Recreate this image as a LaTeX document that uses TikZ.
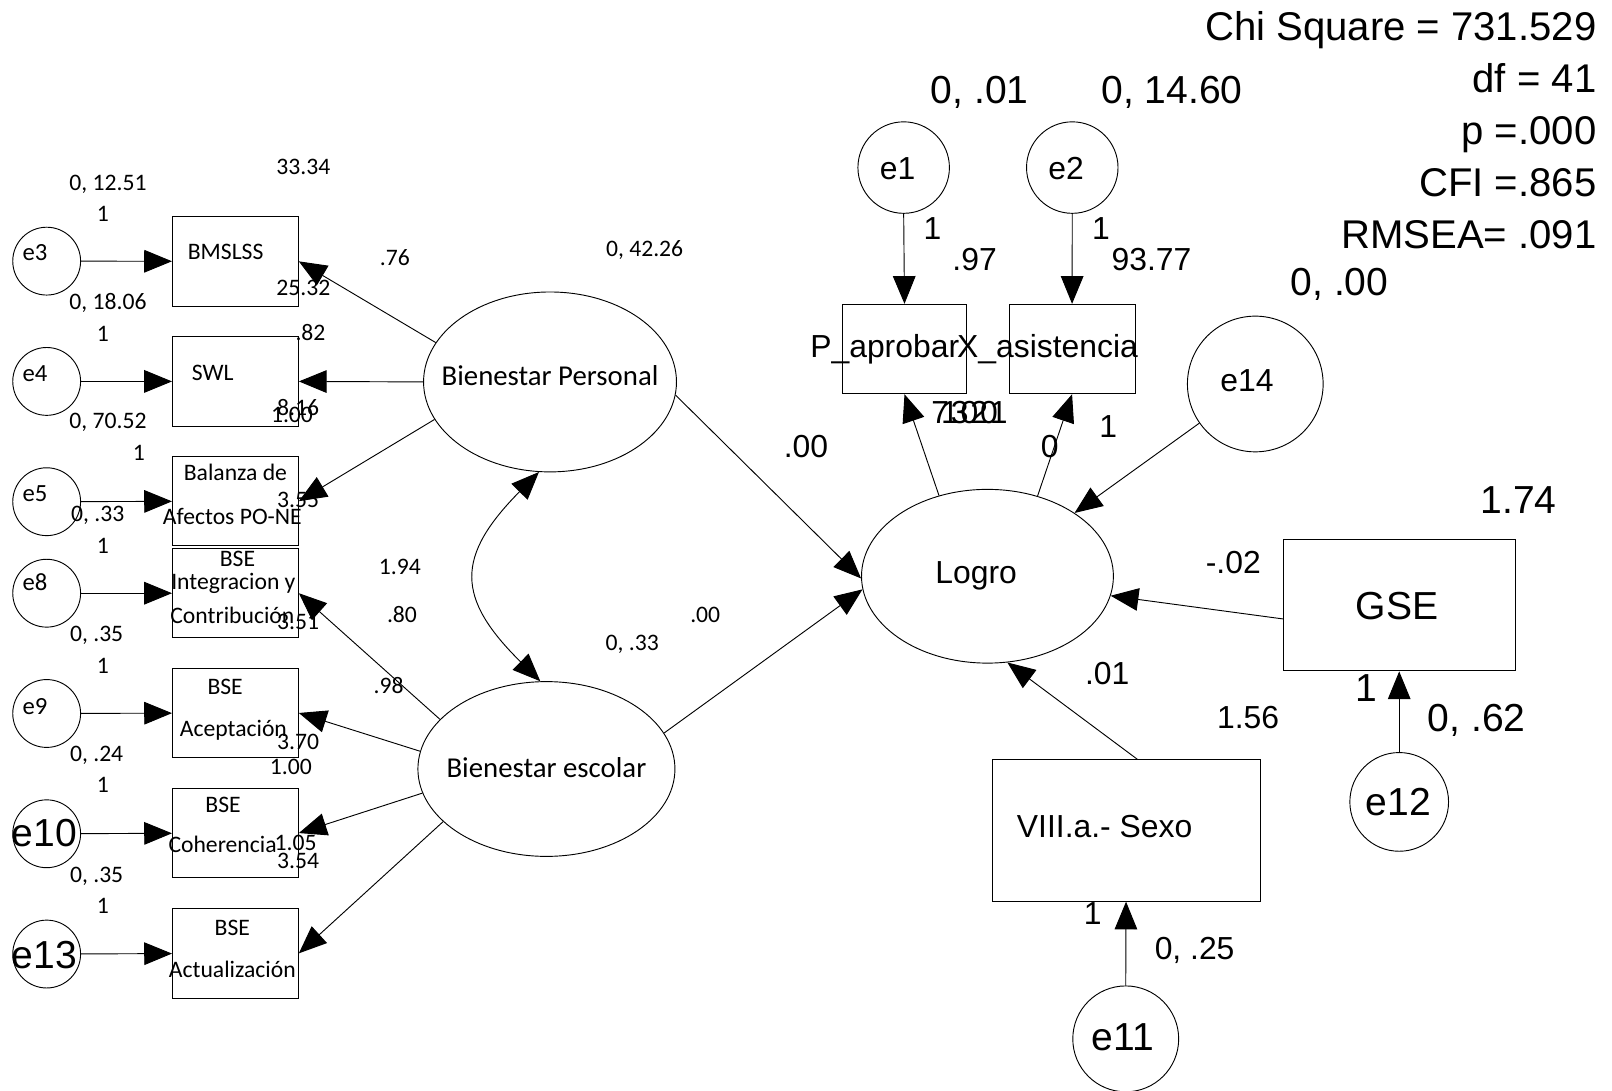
\documentclass[tikz,border=0pt]{standalone}
\usepackage{fontspec}
\setmainfont{Liberation Sans}
\newfontfamily\calfont{Carlito}
\usetikzlibrary{arrows.meta,shapes.geometric}
\tikzset{
  patharrow/.style={draw, line width=0.9pt, -{Triangle[length=27pt,width=22pt]}},
  covarrow/.style={draw, line width=0.9pt, {Triangle[length=27pt,width=22pt]}-{Triangle[length=27pt,width=22pt]}},
  latentvar/.style={draw, ellipse, line width=0.9pt, inner sep=0pt},
  obsvar/.style={draw, rectangle, line width=0.9pt, inner sep=0pt},
  errvar/.style={draw, circle, line width=0.9pt, inner sep=0pt},
  lblsmall/.style={inner sep=0pt, font=\calfont\fontsize{23}{27}\selectfont, text height=14.5pt, text depth=0pt},
  lblerr/.style={inner sep=0pt, font=\calfont\fontsize{24}{28}\selectfont, text height=15.2pt, text depth=0pt},
  lblmid/.style={inner sep=0pt, font=\calfont\fontsize{28}{32}\selectfont, text height=17.7pt, text depth=0pt},
  lblarial/.style={inner sep=0pt, font=\fontsize{31}{36}\selectfont, text height=22.2pt, text depth=0pt},
  lblbig/.style={inner sep=0pt, font=\fontsize{38}{44}\selectfont, text height=27.2pt, text depth=0pt},
  lblstat/.style={inner sep=0pt, font=\fontsize{39}{45}\selectfont, text height=27.9pt, text depth=0pt, anchor=east},
}
\begin{document}
\begin{tikzpicture}[x=1pt,y=-1pt]
\useasboundingbox (0,0) rectangle (1568,1061);

% ---------- latent variables ----------
\node[latentvar, minimum width=246, minimum height=175] (bp) at (535,371.5) {};
\node[lblmid] (bpt) at (535,366.5) {Bienestar Personal};
\node[latentvar, minimum width=250, minimum height=170] (be) at (531.5,748) {};
\node[lblmid] (bet) at (531.5,747) {Bienestar escolar};
\node[latentvar, minimum width=245, minimum height=169] (lg) at (960.5,560.5) {};
\node[lblarial] (lgt) at (949.5,556) {Logro};

% ---------- left indicators ----------
\foreach \n/\y in {bms/254.2, swl/371, bal/487.5, int/577, acc/693.5, coh/810.3, act/927.3}{
  \node[obsvar, minimum width=122.5, minimum height=87] (\n) at (229,\y) {};
}
\foreach \n/\y in {e3/254, e4/371, e5/488, e8/577, e9/694, e10/811, e13/928}{
  \node[errvar, minimum size=66] (\n) at (45.4,\y) {};
}
\node[lblerr] (e3t) at (34,245.5) {e3};
\node[lblerr] (e4t) at (34,363) {e4};
\node[lblerr] (e5t) at (34,480) {e5};
\node[lblerr] (e8t) at (34,567) {e8};
\node[lblerr] (e9t) at (34,687.5) {e9};
\node[lblbig] (e10t) at (43,810) {e10};
\node[lblbig] (e13t) at (43,928) {e13};

\draw[patharrow] (e3) -- (bms);
\draw[patharrow] (e4) -- (swl);
\draw[patharrow] (e5) -- (bal);
\draw[patharrow] (e8) -- (int);
\draw[patharrow] (e9) -- (acc);
\draw[patharrow] (e10) -- (coh);
\draw[patharrow] (e13) -- (act);

% box texts
\node[lblsmall] (bmst) at (219.5,245) {BMSLSS};
\node[lblsmall] (swlt) at (207,363) {SWL};
\node[lblsmall] (balt1) at (229,460) {Balanza de};
\node[lblsmall] (balt2) at (226,503) {Afectos PO-NE};
\node[lblsmall] (intt1) at (231,544) {BSE};
\node[lblsmall] (intt2) at (227,566) {Integracion y};
\node[lblsmall] (intt3) at (226,599) {Contribución};
\node[lblsmall] (acct1) at (219,668) {BSE};
\node[lblsmall] (acct2) at (227,709) {Aceptación};
\node[lblsmall] (coht1) at (217,783) {BSE};
\node[lblsmall] (coht2) at (216.5,822) {Coherencia};
\node[lblsmall] (actt1) at (226,903) {BSE};
\node[lblsmall] (actt2) at (226,943.5) {Actualización};

% loadings
\draw[patharrow] (bp.161.8) -- (bms.east);
\draw[patharrow] (bp.180) -- (swl.east);
\draw[patharrow] (bp.198.2) -- (bal.east);
\draw[patharrow] (be.155.9) -- (int.east);
\draw[patharrow] (be.172.7) -- (acc.east);
\draw[patharrow] (be.191.6) -- (coh.east);
\draw[patharrow] (be.207.4) -- (act.east);

% covariance
\draw[covarrow] (bp.263.5) to[bend right=45, looseness=1.45] (be.94.4);

% structural paths
\draw[patharrow] (bp.354.5) -- (lg.181);
\draw[patharrow] (be.17.6) -- (lg.186.8);

% small labels left
\node[lblsmall] (l1) at (295,162) {33.34};
\node[lblsmall] (l2) at (105,178) {0, 12.51};
\node[lblsmall] (l3) at (100,208) {1};
\node[lblsmall] (l4) at (105,294) {0, 18.06};
\node[lblsmall] (l5) at (100,325) {1};
\node[lblsmall] (l6) at (105,410) {0, 70.52};
\node[lblsmall] (l7) at (135,441) {1};
\node[lblsmall] (l8) at (95,500) {0, .33};
\node[lblsmall] (l9) at (100,531) {1};
\node[lblsmall] (l10) at (94,617) {0, .35};
\node[lblsmall] (l11) at (100,648) {1};
\node[lblsmall] (l12) at (94,733) {0, .24};
\node[lblsmall] (l13) at (100,764) {1};
\node[lblsmall] (l14) at (94,851) {0, .35};
\node[lblsmall] (l15) at (100,881) {1};
\node[lblsmall] (l16) at (384,251) {.76};
\node[lblsmall] (l17) at (627,242) {0, 42.26};
\node[lblsmall] (l18) at (295,280) {25.32};
\node[lblsmall] (l19) at (302,324) {.82};
\node[lblsmall] (l20) at (290,397) {8.16};
\node[lblsmall] (l21) at (284,404) {1.00};
\node[lblsmall] (l22) at (290,486) {3.55};
\node[lblsmall] (l23) at (389,552) {1.94};
\node[lblsmall] (l24) at (391,598) {.80};
\node[lblsmall] (l25) at (378,667) {.98};
\node[lblsmall] (l26) at (290,605) {3.51};
\node[lblsmall] (l27) at (290,721.5) {3.70};
\node[lblsmall] (l28) at (283,746) {1.00};
\node[lblsmall] (l29) at (287.6,820) {1.05};
\node[lblsmall] (l30) at (290,838) {3.54};
\node[lblsmall] (l31) at (615,625) {0, .33};
\node[lblsmall] (l32) at (686,598) {.00};

% ---------- right part ----------
\node[errvar, minimum size=89] (e1) at (879,163) {};
\node[errvar, minimum size=89] (e2) at (1043,163) {};
\node[lblarial] (e1t) at (873,163.5) {e1};
\node[lblarial] (e2t) at (1037,163.5) {e2};
\node[obsvar, minimum width=121.5, minimum height=87] (pap) at (879.8,339.5) {};
\node[obsvar, minimum width=122.4, minimum height=87] (xa) at (1042.8,339.5) {};
\node[lblarial, anchor=west] (papt) at (788,337) {P\_aprobar};
\node[lblarial, anchor=east] (xat) at (1107,337) {X\_asistencia};
\draw[patharrow] (e1.south) -- (pap.north);
\draw[patharrow] (e2.south) -- (xa.north);
\draw[patharrow] (lg.121.7) -- (pap.south);
\draw[patharrow] (lg.58) -- (xa.south);

\node[errvar, minimum size=132] (e14) at (1221,373.5) {};
\node[lblarial] (e14t) at (1213,369.6) {e14};
\draw[patharrow] (e14.215) -- (lg.36);

\node[obsvar, minimum width=225.6, minimum height=128] (gse) at (1361,588.6) {};
\node[lblbig] (gset) at (1359,588.5) {GSE};
\node[errvar, minimum size=96] (e12) at (1361,780) {};
\node[lblbig] (e12t) at (1360,780) {e12};
\draw[patharrow] ([yshift=-13.4pt]gse.west) -- (lg.351.5);
\draw[patharrow] (e12.north) -- (gse.south);

\node[obsvar, minimum width=260.6, minimum height=137.6] (sexo) at (1095.3,807.8) {};
\node[lblarial, anchor=west] (sexot) at (989,804) {VIII.a.- Sexo};
\node[errvar, minimum size=103] (e11) at (1095,1010.5) {};
\node[lblbig] (e11t) at (1092,1008.5) {e11};
\draw[patharrow] ([xshift=11pt]sexo.north) -- (lg.283);
\draw[patharrow] (e11.north) -- (sexo.south);

% labels right
\node[lblbig] (r1) at (953,87) {0, .01};
\node[lblbig] (r2) at (1140,87) {0, 14.60};
\node[lblarial] (r3) at (907,222) {1};
\node[lblarial] (r4) at (1071,222) {1};
\node[lblarial] (r5) at (948,252) {.97};
\node[lblarial] (r6) at (1120,252) {93.77};
\node[lblbig] (r7) at (1303,274) {0, .00};
\node[lblarial] (r8) at (943,401) {7\kern-0.25em 1\kern-0.25em 3\kern-0.25em 0\kern-0.25em 2\kern-0.25em 0\kern-0.25em 1};
\node[lblarial] (r9) at (1021,434) {0};
\node[lblarial] (r10) at (1078,414) {1};
\node[lblarial] (r11) at (784,434) {.00};
\node[lblbig] (r12) at (1477,486) {1.74};
\node[lblarial] (r13) at (1199.6,546.6) {-.02};
\node[lblbig] (r14) at (1329.5,669) {1};
\node[lblbig] (r15) at (1436.5,697.5) {0, .62};
\node[lblarial] (r16) at (1214,697.5) {1.56};
\node[lblarial] (r17) at (1077,655) {.01};
\node[lblarial] (r18) at (1063,888) {1};
\node[lblarial] (r19) at (1162,922) {0, .25};

% fit statistics
\node[lblstat] (s1) at (1553,25) {Chi Square = 731.529};
\node[lblstat] (s2) at (1553,76) {df = 41};
\node[lblstat] (s3) at (1553,127) {p =.000};
\node[lblstat] (s4) at (1553,177) {CFI =.865};
\node[lblstat] (s5) at (1553,228) {RMSEA= .091};
\end{tikzpicture}
\end{document}
